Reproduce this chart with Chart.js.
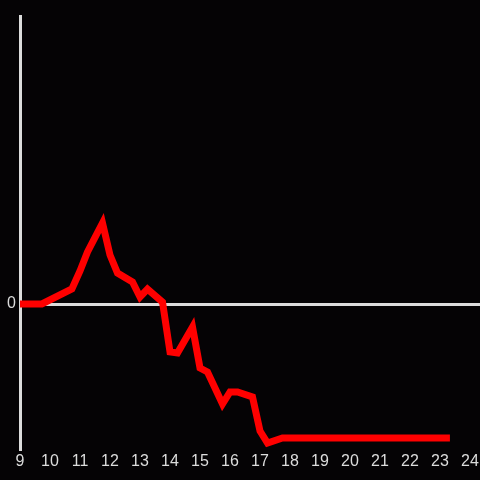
<!DOCTYPE html>
<html>
<head>
<meta charset="utf-8">
<script src="https://cdn.jsdelivr.net/npm/chart.js@4"></script>
<style>
html,body{margin:0;padding:0;background:#050305;}
#wrap{width:480px;height:480px;}
</style>
</head>
<body>
<div id="wrap"><canvas id="c" width="480" height="480"></canvas></div>
<script>
const hours = [9, 9.73, 10.73, 11.0, 11.25, 11.75, 12.0, 12.25, 12.75, 13.0, 13.25, 13.75, 14.0, 14.25, 14.75, 15.0, 15.25, 15.75, 16.0, 16.25, 16.75, 17.0, 17.25, 17.75, 23.33];
const values = [0, 0, 15, 33, 52, 81, 49, 31, 22, 7, 15, 2, -48, -49, -23, -64, -68, -100, -88, -88, -93, -127, -139, -134, -134];
const xTickLabels = [9,10,11,12,13,14,15,16,17,18,19,20,21,22,23,24];
const yTickLabels = [0];

const axisColor = '#dcdcdc';
new Chart(document.getElementById('c'), {
  type: 'line',
  data: {
    datasets: [{
      data: hours.map((h, i) => ({x: h, y: values[i]})),
      borderColor: '#ff0000',
      borderWidth: 7,
      pointRadius: 0,
      tension: 0,
      fill: false
    }]
  },
  options: {
    responsive: false,
    animation: false,
    layout: {padding: {top: 16, right: 0, left: 0, bottom: 0}},
    plugins: {legend: {display: false}, tooltip: {enabled: false}},
    scales: {
      x: {
        type: 'linear',
        min: 9,
        max: 24.333,
        afterBuildTicks: s => { s.ticks = xTickLabels.map(v => ({value: v})); },
        afterFit: s => { s.height = 31; s.paddingLeft = 0; s.paddingRight = 0; },
        grid: {display: false, drawTicks: false},
        border: {display: false},
        ticks: {color: axisColor, font: {family: 'Liberation Sans, Arial', size: 16}, padding: 3, maxRotation: 0, autoSkip: false}
      },
      y: {
        min: -145,
        max: 288,
        afterBuildTicks: s => { s.ticks = yTickLabels.map(v => ({value: v})); },
        afterFit: s => { s.width = 20; s.paddingTop = 0; s.paddingBottom = 0; },
        grid: {color: axisColor, lineWidth: 3, drawTicks: false},
        border: {display: true, color: axisColor, width: 3},
        ticks: {color: axisColor, font: {family: 'Liberation Sans, Arial', size: 16}, padding: 4}
      }
    }
  }
});
</script>
</body>
</html>
